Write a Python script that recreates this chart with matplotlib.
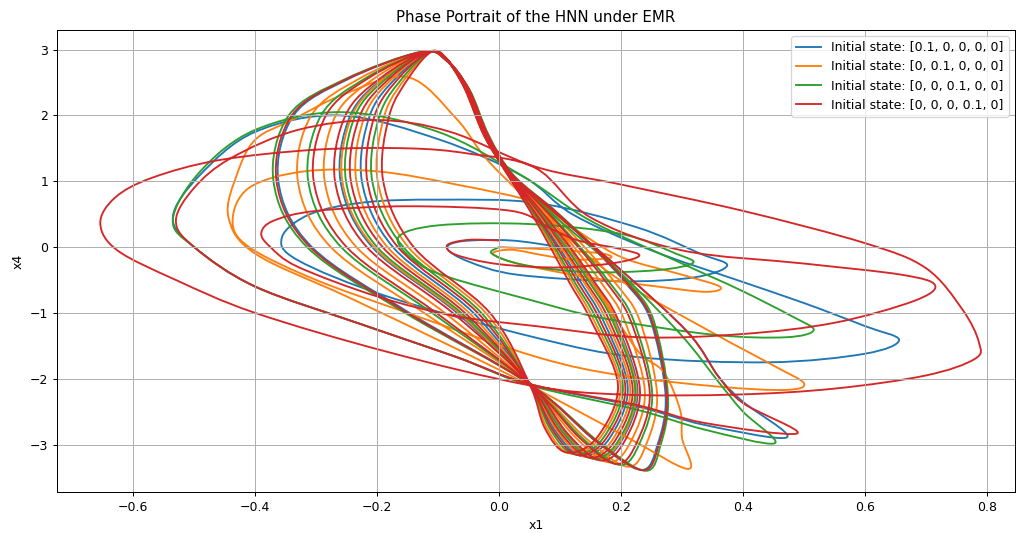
import numpy as np
import matplotlib
matplotlib.use("Agg")
import matplotlib.pyplot as plt
from matplotlib.path import Path
from matplotlib.patches import PathPatch
from matplotlib.lines import Line2D

# (x1, x4) points, one list per trajectory stage
blue_start = [(0.1, 0.0), (0.02, 0.1), (-0.06, 0.09), (-0.085, -0.02), (-0.05, -0.22), (0.03, -0.42),
              (0.2, -0.52), (0.32, -0.46), (0.374, -0.28), (0.33, -0.1), (0.226, 0.3), (0.062, 0.67),
              (-0.1, 0.72), (-0.22, 0.68), (-0.31, 0.5), (-0.356, 0.15), (-0.33, -0.2), (-0.18, -0.76),
              (0.062, -1.38), (0.226, -1.67), (0.444, -1.75), (0.6, -1.62), (0.656, -1.41), (0.6, -1.2),
              (0.5, -0.85), (0.39, -0.5), (0.25, -0.05), (0.12, 0.5), (0.04, 1.07), (-0.097, 1.63),
              (-0.26, 2.0), (-0.4, 1.75), (-0.49, 1.1), (-0.535, 0.46), (-0.5, 0.0), (-0.4, -0.6),
              (-0.23, -1.16), (-0.07, -1.67), (0.05, -2.08), (0.226, -2.42), (0.336, -2.7), (0.472, -2.89),
              (0.4, -2.35), (0.36, -1.97), (0.31, -1.3), (0.2, -0.35), (0.1, 0.45), (0.02, 1.1),
              (-0.02, 1.7), (-0.05, 2.4), (-0.087, 2.85)]
blue_loops = [
    [(-0.13, 2.96), (-0.248, 2.55), (-0.337, 2.0), (-0.362, 1.0), (-0.307, 0.0), (-0.147, -1.0), (0.05, -2.08),
     (0.158, -2.946), (0.233, -3.385), (0.26, -2.998), (0.273, -2.247), (0.248, -1.1), (0.208, -0.55),
     (0.153, 0.0), (0.089, 0.56), (0.021, 1.1), (-0.019, 1.7), (-0.05, 2.4), (-0.088, 2.85)],
    [(-0.118, 2.966), (-0.188, 2.58), (-0.244, 2.0), (-0.26, 1.0), (-0.208, 0.0), (-0.069, -1.0), (0.05, -2.08),
     (0.109, -2.83), (0.16, -3.228), (0.201, -2.94), (0.227, -2.16), (0.19, -1.1), (0.154, -0.55),
     (0.112, 0.0), (0.066, 0.56), (0.018, 1.1), (-0.021, 1.7), (-0.053, 2.4), (-0.086, 2.85)],
    [(-0.114, 2.968), (-0.167, 2.59), (-0.212, 2.0), (-0.225, 1.0), (-0.174, 0.0), (-0.042, -1.0), (0.05, -2.08),
     (0.092, -2.79), (0.135, -3.174), (0.18, -2.92), (0.211, -2.13), (0.17, -1.1), (0.135, -0.55),
     (0.098, 0.0), (0.058, 0.56), (0.016, 1.1), (-0.023, 1.7), (-0.054, 2.4), (-0.085, 2.85)],
]

orange_start = [(0.0, 0.0), (0.09, -0.04), (0.17, -0.1), (0.18, -0.17), (0.12, -0.19), (0.07, -0.12),
                (0.02, -0.04), (-0.01, -0.1), (0.03, -0.25), (0.14, -0.45), (0.26, -0.6), (0.34, -0.68),
                (0.362, -0.6), (0.3, -0.42), (0.2, -0.15), (0.12, 0.3), (0.062, 0.67), (-0.07, 0.95),
                (-0.2, 1.15), (-0.32, 1.15), (-0.41, 0.9), (-0.437, 0.4), (-0.41, 0.0), (-0.3, -0.5),
                (-0.15, -1.0), (0.062, -1.67), (0.2, -1.95), (0.36, -2.12), (0.47, -2.17), (0.5, -2.07),
                (0.45, -1.8), (0.35, -1.3), (0.19, -0.45), (0.09, 0.35), (-0.015, 1.28), (-0.07, 1.95),
                (-0.149, 2.58), (-0.25, 2.34), (-0.34, 1.93), (-0.4, 1.63), (-0.43, 1.1), (-0.444, 0.46),
                (-0.4, -0.1), (-0.25, -0.75), (-0.08, -1.5), (0.05, -2.1), (0.21, -2.89), (0.31, -3.37),
                (0.3, -2.9), (0.297, -2.48), (0.27, -1.9), (0.226, -1.56), (0.16, -0.6), (0.08, 0.5),
                (0.02, 1.1), (-0.02, 1.7), (-0.05, 2.4), (-0.087, 2.85)]
orange_loops = [
    [(-0.126, 2.962), (-0.229, 2.56), (-0.308, 2.0), (-0.33, 1.0), (-0.276, 0.0), (-0.123, -1.0), (0.05, -2.08),
     (0.143, -2.91), (0.211, -3.336), (0.242, -2.98), (0.259, -2.22), (0.23, -1.1), (0.191, -0.55),
     (0.14, 0.0), (0.082, 0.56), (0.02, 1.1), (-0.02, 1.7), (-0.051, 2.4), (-0.087, 2.85)],
    [(-0.121, 2.965), (-0.203, 2.573), (-0.268, 2.0), (-0.286, 1.0), (-0.234, 0.0), (-0.089, -1.0), (0.05, -2.08),
     (0.122, -2.86), (0.179, -3.269), (0.216, -2.955), (0.239, -2.183), (0.205, -1.1), (0.168, -0.55),
     (0.123, 0.0), (0.072, 0.56), (0.019, 1.1), (-0.021, 1.7), (-0.052, 2.4), (-0.086, 2.85)],
    [(-0.118, 2.966), (-0.186, 2.581), (-0.241, 2.0), (-0.257, 1.0), (-0.205, 0.0), (-0.066, -1.0), (0.05, -2.08),
     (0.107, -2.826), (0.158, -3.223), (0.199, -2.938), (0.225, -2.157), (0.188, -1.1), (0.152, -0.55),
     (0.111, 0.0), (0.065, 0.56), (0.017, 1.1), (-0.022, 1.7), (-0.053, 2.4), (-0.086, 2.85)],
    [(-0.115, 2.968), (-0.172, 2.588), (-0.22, 2.0), (-0.234, 1.0), (-0.183, 0.0), (-0.049, -1.0), (0.05, -2.08),
     (0.096, -2.8), (0.142, -3.188), (0.186, -2.925), (0.215, -2.138), (0.175, -1.1), (0.14, -0.55),
     (0.102, 0.0), (0.06, 0.56), (0.016, 1.1), (-0.023, 1.7), (-0.054, 2.4), (-0.085, 2.85)],
    [(-0.111, 2.97), (-0.151, 2.598), (-0.188, 2.0), (-0.199, 1.0), (-0.149, 0.0), (-0.022, -1.0), (0.05, -2.08),
     (0.079, -2.76), (0.116, -3.134), (0.165, -2.905), (0.199, -2.108), (0.155, -1.1), (0.121, -0.55),
     (0.088, 0.0), (0.052, 0.56), (0.014, 1.1), (-0.025, 1.7), (-0.056, 2.4), (-0.084, 2.85)],
]

green_start = [(0.0, 0.0), (-0.012, -0.1), (0.04, -0.27), (0.144, -0.38), (0.26, -0.35), (0.318, -0.24),
               (0.29, -0.1), (0.2, 0.2), (0.05, 0.35), (-0.1, 0.33), (-0.165, 0.15), (-0.14, -0.2),
               (-0.085, -0.45), (0.05, -0.8), (0.17, -1.08), (0.35, -1.33), (0.47, -1.37), (0.516, -1.26),
               (0.48, -1.05), (0.395, -0.65), (0.3, -0.25), (0.15, 0.4), (0.04, 1.07), (-0.1, 1.75),
               (-0.26, 2.05), (-0.4, 1.78), (-0.49, 1.15), (-0.535, 0.42), (-0.5, 0.0), (-0.4, -0.6),
               (-0.23, -1.16), (-0.07, -1.67), (0.05, -2.1), (0.226, -2.47), (0.336, -2.77), (0.452, -2.98),
               (0.4, -2.5), (0.36, -2.05), (0.3, -1.35), (0.2, -0.4), (0.1, 0.4), (0.02, 1.1),
               (-0.02, 1.7), (-0.05, 2.4), (-0.087, 2.85)]
green_loops = [
    [(-0.131, 2.96), (-0.253, 2.549), (-0.345, 2.0), (-0.37, 1.0), (-0.315, 0.0), (-0.154, -1.0), (0.05, -2.08),
     (0.163, -2.956), (0.24, -3.398), (0.265, -3.003), (0.277, -2.255), (0.253, -1.1), (0.213, -0.55),
     (0.156, 0.0), (0.091, 0.56), (0.023, 1.1), (-0.017, 1.7), (-0.049, 2.4), (-0.089, 2.85)],
    [(-0.124, 2.963), (-0.219, 2.565), (-0.292, 2.0), (-0.313, 1.0), (-0.259, 0.0), (-0.11, -1.0), (0.05, -2.08),
     (0.135, -2.89), (0.198, -3.309), (0.231, -2.97), (0.251, -2.205), (0.22, -1.1), (0.182, -0.55),
     (0.133, 0.0), (0.078, 0.56), (0.02, 1.1), (-0.02, 1.7), (-0.051, 2.4), (-0.087, 2.85)],
    [(-0.117, 2.967), (-0.182, 2.583), (-0.236, 2.0), (-0.251, 1.0), (-0.2, 0.0), (-0.062, -1.0), (0.05, -2.08),
     (0.105, -2.82), (0.154, -3.215), (0.196, -2.935), (0.223, -2.153), (0.185, -1.1), (0.149, -0.55),
     (0.109, 0.0), (0.064, 0.56), (0.017, 1.1), (-0.022, 1.7), (-0.053, 2.4), (-0.086, 2.85)],
    [(-0.112, 2.969), (-0.156, 2.595), (-0.196, 2.0), (-0.208, 1.0), (-0.157, 0.0), (-0.029, -1.0), (0.05, -2.08),
     (0.084, -2.77), (0.123, -3.147), (0.17, -2.91), (0.203, -2.115), (0.16, -1.1), (0.125, -0.55),
     (0.091, 0.0), (0.054, 0.56), (0.015, 1.1), (-0.024, 1.7), (-0.055, 2.4), (-0.085, 2.85)],
]

red_start = [(0.0, 0.1), (-0.05, 0.11), (-0.085, 0.03), (-0.07, -0.12), (0.0, -0.26), (0.1, -0.31),
             (0.19, -0.24), (0.23, -0.13), (0.2, -0.03), (0.13, 0.1), (0.08, 0.3), (0.02, 0.55),
             (-0.15, 0.62), (-0.3, 0.55), (-0.37, 0.4), (-0.39, 0.21), (-0.375, 0.0), (-0.33, -0.3),
             (-0.2, -0.75), (-0.07, -1.05), (0.06, -1.2), (0.23, -1.37), (0.4, -1.32), (0.55, -1.15),
             (0.68, -0.82), (0.715, -0.58), (0.66, -0.42), (0.5, -0.25), (0.3, -0.05), (0.15, 0.45),
             (0.06, 1.2), (-0.05, 1.42), (-0.15, 1.5), (-0.3, 1.48), (-0.46, 1.32), (-0.57, 1.05),
             (-0.63, 0.75), (-0.654, 0.36), (-0.626, -0.05), (-0.53, -0.5), (-0.4, -1.0), (-0.18, -1.6),
             (0.05, -2.1), (0.2, -2.24), (0.39, -2.24), (0.55, -2.15), (0.7, -1.95), (0.78, -1.7),
             (0.787, -1.45), (0.76, -0.95), (0.7, -0.32), (0.6, 0.06), (0.4, 0.55), (0.2, 0.95),
             (0.06, 1.22), (-0.08, 1.75), (-0.2, 1.93), (-0.33, 1.78), (-0.44, 1.35), (-0.5, 0.9),
             (-0.53, 0.4), (-0.5, 0.0), (-0.4, -0.6), (-0.23, -1.16), (-0.07, -1.67), (0.05, -2.08),
             (0.226, -2.4), (0.336, -2.67), (0.489, -2.83), (0.4, -2.37), (0.36, -1.97), (0.31, -1.3),
             (0.2, -0.35), (0.1, 0.45), (0.02, 1.1), (-0.02, 1.7), (-0.05, 2.4), (-0.087, 2.85)]
red_loops = [
    [(-0.13, 2.96), (-0.25, 2.55), (-0.34, 2.0), (-0.365, 1.0), (-0.31, 0.0), (-0.15, -1.0), (0.05, -2.08),
     (0.16, -2.95), (0.236, -3.39), (0.262, -3.0), (0.275, -2.25), (0.25, -1.1), (0.21, -0.55),
     (0.154, 0.0), (0.09, 0.56), (0.022, 1.1), (-0.018, 1.7), (-0.05, 2.4), (-0.088, 2.85)],
    [(-0.123, 2.963), (-0.214, 2.568), (-0.284, 2.0), (-0.304, 1.0), (-0.25, 0.0), (-0.103, -1.0), (0.05, -2.08),
     (0.13, -2.88), (0.192, -3.296), (0.226, -2.965), (0.247, -2.198), (0.215, -1.1), (0.177, -0.55),
     (0.13, 0.0), (0.076, 0.56), (0.02, 1.1), (-0.02, 1.7), (-0.052, 2.4), (-0.087, 2.85)],
    [(-0.119, 2.966), (-0.193, 2.578), (-0.252, 2.0), (-0.269, 1.0), (-0.217, 0.0), (-0.076, -1.0), (0.052, -2.08),
     (0.113, -2.84), (0.167, -3.242), (0.206, -2.945), (0.231, -2.168), (0.195, -1.1), (0.158, -0.55),
     (0.116, 0.0), (0.068, 0.56), (0.018, 1.1), (-0.022, 1.7), (-0.053, 2.4), (-0.086, 2.85)],
    [(-0.116, 2.967), (-0.177, 2.585), (-0.228, 2.0), (-0.243, 1.0), (-0.191, 0.0), (-0.056, -1.0), (0.05, -2.08),
     (0.1, -2.81), (0.148, -3.2), (0.191, -2.93), (0.219, -2.145), (0.18, -1.1), (0.144, -0.55),
     (0.105, 0.0), (0.062, 0.56), (0.016, 1.1), (-0.023, 1.7), (-0.054, 2.4), (-0.085, 2.85)],
    [(-0.113, 2.968), (-0.162, 2.593), (-0.204, 2.0), (-0.216, 1.0), (-0.166, 0.0), (-0.035, -1.0), (0.05, -2.08),
     (0.088, -2.78), (0.129, -3.16), (0.175, -2.915), (0.207, -2.122), (0.165, -1.1), (0.13, -0.55),
     (0.095, 0.0), (0.056, 0.56), (0.015, 1.1), (-0.024, 1.7), (-0.055, 2.4), (-0.085, 2.85)],
    [(-0.11, 2.97), (-0.146, 2.6), (-0.18, 2.0), (-0.19, 1.0), (-0.14, 0.0), (-0.015, -1.0), (0.05, -2.08),
     (0.075, -2.75), (0.11, -3.12), (0.16, -2.9), (0.195, -2.1), (0.15, -1.1), (0.116, -0.55),
     (0.084, 0.0), (0.05, 0.56), (0.014, 1.1), (-0.025, 1.7), (-0.056, 2.4), (-0.084, 2.85)],
]

labels = ["Initial state: [0.1, 0, 0, 0, 0]", "Initial state: [0, 0.1, 0, 0, 0]",
          "Initial state: [0, 0, 0.1, 0, 0]", "Initial state: [0, 0, 0, 0.1, 0]"]
colors = ["tab:blue", "tab:orange", "tab:green", "tab:red"]


def smooth_path(pts):
    # Catmull-Rom curve through the read points, drawn as cubic Bezier segments
    P = np.asarray(pts, dtype=float)
    n = len(P)
    verts = [P[0]]
    codes = [Path.MOVETO]
    for i in range(n - 1):
        p0 = P[i - 1] if i > 0 else P[i]
        p1, p2 = P[i], P[i + 1]
        p3 = P[i + 2] if i + 2 < n else P[i + 1]
        verts += [p1 + (p2 - p0) / 6, p2 - (p3 - p1) / 6, p2]
        codes += [Path.CURVE4] * 3
    return Path(verts, codes)


series = [
    blue_start + sum(blue_loops, []),
    orange_start + sum(orange_loops, []),
    green_start + sum(green_loops, []),
    red_start + sum(red_loops, []),
]

fig, ax = plt.subplots(figsize=(1018 / 90, 533 / 90), dpi=90)
fig.subplots_adjust(left=0.056, right=0.997, top=0.944, bottom=0.077)

for pts, c in zip(series, colors):
    ax.add_patch(PathPatch(smooth_path(pts), fill=False, edgecolor=c, lw=1.5))

ax.set_xlim(-0.725, 0.846)
ax.set_ylim(-3.72, 3.3)
ax.set_xticks(np.arange(-0.6, 0.81, 0.2))
ax.set_yticks(np.arange(-3, 4, 1))
ax.grid(True)
ax.set_title("Phase Portrait of the HNN under EMR")
ax.set_xlabel("x1")
ax.set_ylabel("x4")
handles = [Line2D([], [], color=c, lw=1.5) for c in colors]
ax.legend(handles, labels, loc="upper right")

plt.savefig("out.png", dpi=90)
